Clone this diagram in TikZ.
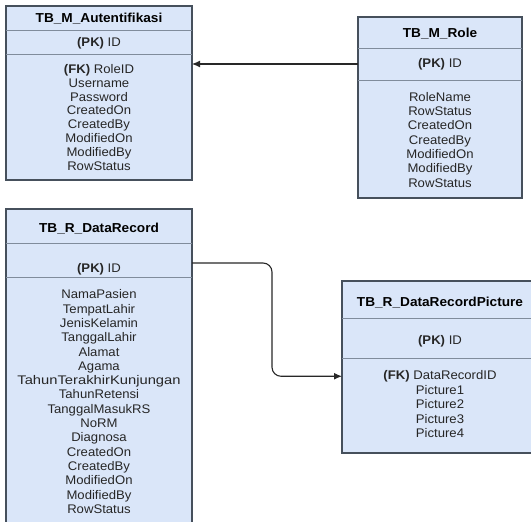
\documentclass[tikz,border=0pt]{standalone}
\usepackage{fontspec}
\setmainfont[FakeStretch=1.05]{Liberation Sans}
\usetikzlibrary{arrows.meta}

\definecolor{tablefill}{RGB}{218,230,249}
\definecolor{tableline}{RGB}{70,80,92}
\definecolor{dividerline}{RGB}{128,140,156}
\definecolor{linkline}{RGB}{40,40,40}

\tikzset{
  tablebox/.style={draw=tableline, line width=1.4pt, fill=tablefill,
    anchor=north west, inner sep=0pt, outer sep=0pt},
  band/.style={anchor=north west, inner sep=0pt, outer sep=0pt},
  divider/.style={draw=dividerline, line width=0.9pt},
  titletext/.style={anchor=base, inner sep=0pt,
    font=\fontsize{13}{15}\selectfont\bfseries},
  fieldtext/.style={anchor=base, inner sep=0pt,
    font=\fontsize{12.5}{14}\selectfont, text=black!85},
  link/.style={draw=linkline, line width=1.1pt,
    -{Latex[length=8pt,width=7pt]}},
}
\newcommand{\widefield}[1]{{\addfontfeature{FakeStretch=1.18}#1}}

\begin{document}
\begin{tikzpicture}[x=1pt, y=-1pt]
\useasboundingbox (0,0) rectangle (531,522);
\clip (0,0) rectangle (531,522);

% ---------- TB_M_Autentifikasi ----------
\node[tablebox, minimum width=186pt, minimum height=174pt] (auth) at (6,6) {};
\node[band, minimum width=186pt, minimum height=24pt] (auth-pk) at (6,30) {};
\draw[divider] (auth-pk.north west) -- (auth-pk.north east);
\draw[divider] (auth-pk.south west) -- (auth-pk.south east);
\node[titletext] (auth-title) at (99,22.8) {TB\_M\_Autentifikasi};
\node[fieldtext] (auth-id) at (99,46.2) {\textbf{(PK)} ID};
\foreach \t [count=\i] in {{\textbf{(FK)} RoleID}, Username, Password,
    CreatedOn, CreatedBy, ModifiedOn, ModifiedBy, RowStatus}
  \node[fieldtext] (auth-f\i) at (99,{73.5+13.8*(\i-1)}) {\t};

% ---------- TB_M_Role ----------
\node[tablebox, minimum width=164pt, minimum height=181pt] (role) at (358,17) {};
\node[band, minimum width=164pt, minimum height=32pt] (role-pk) at (358,48) {};
\draw[divider] (role-pk.north west) -- (role-pk.north east);
\draw[divider] (role-pk.south west) -- (role-pk.south east);
\node[titletext] (role-title) at (440,37.8) {TB\_M\_Role};
\node[fieldtext] (role-id) at (440,67.8) {\textbf{(PK)} ID};
\foreach \t [count=\i] in {RoleName, RowStatus, CreatedOn, CreatedBy,
    ModifiedOn, ModifiedBy, RowStatus}
  \node[fieldtext] (role-f\i) at (440,{101.2+14.3*(\i-1)}) {\t};

% ---------- TB_R_DataRecord ----------
\node[tablebox, minimum width=186pt, minimum height=320pt] (rec) at (6,209) {};
\node[band, minimum width=186pt, minimum height=34pt] (rec-pk) at (6,243) {};
\draw[divider] (rec-pk.north west) -- (rec-pk.north east);
\draw[divider] (rec-pk.south west) -- (rec-pk.south east);
\node[titletext] (rec-title) at (99,232.2) {TB\_R\_DataRecord};
\node[fieldtext] (rec-id) at (99,272.8) {\textbf{(PK)} ID};
\foreach \t [count=\i] in {NamaPasien, TempatLahir, JenisKelamin,
    TanggalLahir, Alamat, Agama, \widefield{TahunTerakhirKunjungan},
    TahunRetensi, TanggalMasukRS, NoRM, Diagnosa, CreatedOn, CreatedBy,
    ModifiedOn, ModifiedBy, RowStatus}
  \node[fieldtext] (rec-f\i) at (99,{298.8+14.3*(\i-1)}) {\t};

% ---------- TB_R_DataRecordPicture ----------
\node[tablebox, minimum width=196pt, minimum height=172pt] (pic) at (342,281) {};
\node[band, minimum width=196pt, minimum height=40pt] (pic-pk) at (342,318) {};
\draw[divider] (pic-pk.north west) -- (pic-pk.north east);
\draw[divider] (pic-pk.south west) -- (pic-pk.south east);
\node[titletext] (pic-title) at (440,306.2) {TB\_R\_DataRecordPicture};
\node[fieldtext] (pic-id) at (440,344.5) {\textbf{(PK)} ID};
\foreach \t [count=\i] in {{\textbf{(FK)} DataRecordID}, Picture1, Picture2,
    Picture3, Picture4}
  \node[fieldtext] (pic-f\i) at (440,{379.5+14.6*(\i-1)}) {\t};

% ---------- relations ----------
\draw[link] (role-pk.west) -- (role-pk.west -| auth.east);
\coordinate (bend) at (272,320);
\draw[link, rounded corners=9pt] ([yshift=-3pt]rec-pk.east) -| (bend)
  |- (pic-f1 -| pic.west);
\end{tikzpicture}
\end{document}
